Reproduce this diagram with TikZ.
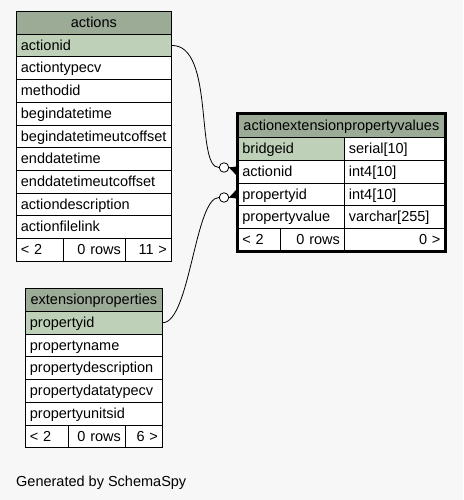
\documentclass[tikz,border=0pt]{standalone}
\usepackage{fontspec}
\setmainfont{Liberation Sans}
\usetikzlibrary{arrows.meta}
\definecolor{bgcol}{RGB}{247,247,247}
\definecolor{hdrcol}{RGB}{155,171,150}
\definecolor{pkcol}{RGB}{190,209,184}
\tikzset{
	cell/.style={draw=black, line width=0.8pt, fill=white, anchor=north west, inner xsep=4.5pt, inner ysep=0pt,
		minimum height=22.7pt, text height=12pt, text depth=2.5pt, text width=#1, align=left},
	rcell/.style={cell=#1, align=right},
	hdr/.style={cell=#1, fill=hdrcol, align=center, inner xsep=2pt},
	pk/.style={cell=#1, fill=pkcol},
	ring/.style={circle, draw=black, fill=white, line width=0.8pt, minimum size=9.5pt, inner sep=0pt},
	fk/.style={line width=0.8pt, -{Triangle[reversed, width=9pt, length=9pt]}}
}

\begin{document}
\begin{tikzpicture}[x=1pt, y=-1pt, font=\fontsize{14.5}{17}\selectfont]
		%%%%% START %%%%%
		
		\fill[bgcol] (0, 0) rectangle (463, 500);
		\useasboundingbox (0, 0) rectangle (463, 500);
		
		% actions
		\node[hdr=151] (act-head) at (16, 11) {actions};
		\node[pk=146] (act-actionid) at (16, 33.7) {actionid};
		\node[cell=146] (act-actiontypecv) at (16, 56.4) {actiontypecv};
		\node[cell=146] (act-methodid) at (16, 79.1) {methodid};
		\node[cell=146] (act-begin) at (16, 101.8) {begindatetime};
		\node[cell=146] (act-beginutc) at (16, 124.5) {begindatetimeutcoffset};
		\node[cell=146] (act-end) at (16, 147.2) {enddatetime};
		\node[cell=146] (act-endutc) at (16, 169.9) {enddatetimeutcoffset};
		\node[cell=146] (act-desc) at (16, 192.6) {actiondescription};
		\node[cell=146] (act-link) at (16, 215.3) {actionfilelink};
		\node[cell=38] (act-foot1) at (16, 238) {< 2};
		\node[rcell=53] (act-foot2) at (63, 238) {0 rows};
		\node[rcell=37] (act-foot3) at (125, 238) {11 >};
		
		% actionextensionpropertyvalues
		\node[hdr=203, minimum height=23.7pt] (apv-head) at (237.5, 113.5) {actionextensionpropertyvalues};
		\node[pk=97.5] (apv-bridgeid) at (237.5, 137.2) {bridgeid};
		\node[cell=91.5] (apv-bridgeid-t) at (344, 137.2) {serial[10]};
		\node[cell=97.5] (apv-actionid) at (237.5, 159.9) {actionid};
		\node[cell=91.5] (apv-actionid-t) at (344, 159.9) {int4[10]};
		\node[cell=97.5] (apv-propertyid) at (237.5, 182.6) {propertyid};
		\node[cell=91.5] (apv-propertyid-t) at (344, 182.6) {int4[10]};
		\node[cell=97.5] (apv-value) at (237.5, 205.3) {propertyvalue};
		\node[cell=91.5] (apv-value-t) at (344, 205.3) {varchar[255]};
		\node[cell=33.5] (apv-foot1) at (237.5, 228) {< 2};
		\node[rcell=55] (apv-foot2) at (280, 228) {0 rows};
		\node[rcell=91.5] (apv-foot3) at (344, 228) {0 >};
		\draw[line width=2.5pt] (apv-head.north west) rectangle (apv-foot3.south east);
		
		% extensionproperties
		\node[hdr=133] (ext-head) at (25, 288.3) {extensionproperties};
		\node[pk=128] (ext-propertyid) at (25, 311) {propertyid};
		\node[cell=128] (ext-name) at (25, 333.7) {propertyname};
		\node[cell=128] (ext-desc) at (25, 356.4) {propertydescription};
		\node[cell=128] (ext-type) at (25, 379.1) {propertydatatypecv};
		\node[cell=128] (ext-unit) at (25, 401.8) {propertyunitsid};
		\node[cell=34] (ext-foot1) at (25, 424.5) {< 2};
		\node[rcell=48] (ext-foot2) at (68, 424.5) {0 rows};
		\node[rcell=28] (ext-foot3) at (125, 424.5) {6 >};
		
		% relations
		\node[ring] (ring-action) at (224, 167.5) {};
		\node[ring] (ring-property) at (224, 197.5) {};
		\coordinate (end-action) at (237.5, 170.5);
		\coordinate (end-property) at (237.5, 194.5);
		
		\draw[line width=0.8pt] (act-actionid.east) .. controls (215, 45) and (195, 167.5) .. (ring-action.west);
		\draw[fk] (ring-action.east) -- (end-action);
		
		\draw[line width=0.8pt] (ext-propertyid.east) .. controls (190, 322) and (195, 197.5) .. (ring-property.west);
		\draw[fk] (ring-property.east) -- (end-property);
		
		\node[anchor=base west, inner sep=0pt] (credit) at (16, 486.5) {Generated by SchemaSpy};
		
		%%%%% END %%%%%
	\end{tikzpicture}
\end{document}
